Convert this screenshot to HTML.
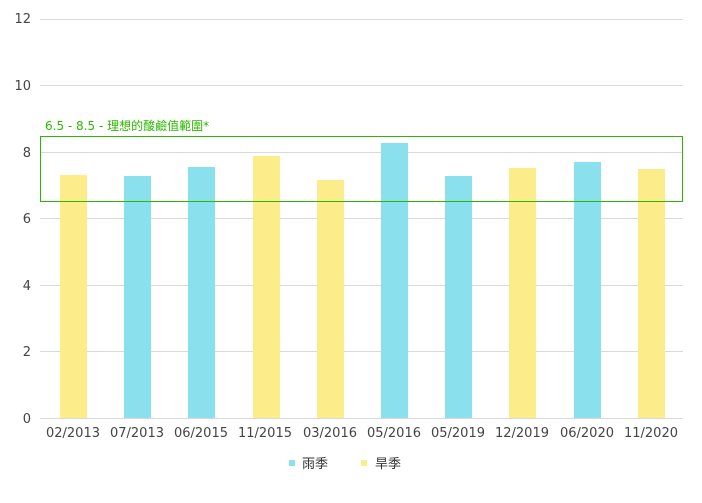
<!DOCTYPE html>
<html><head><meta charset="utf-8"><style>
body{margin:0;background:#fff;}
svg text{font-family:"DejaVu Sans","Noto Sans CJK TC",sans-serif;}
</style></head><body>
<svg width="702" height="498" xmlns="http://www.w3.org/2000/svg">
<g stroke="#d9d9d9" stroke-width="1">
<line x1="40" x2="683" y1="19.5" y2="19.5"/>
<line x1="40" x2="683" y1="85.5" y2="85.5"/>
<line x1="40" x2="683" y1="152.5" y2="152.5"/>
<line x1="40" x2="683" y1="218.5" y2="218.5"/>
<line x1="40" x2="683" y1="285.5" y2="285.5"/>
<line x1="40" x2="683" y1="351.5" y2="351.5"/>
<line x1="40" x2="683" y1="418.5" y2="418.5"/>
</g>
<g font-size="13" fill="#444" text-anchor="end">
<text x="31" y="23">12</text><text x="31" y="90">10</text><text x="31" y="157">8</text>
<text x="31" y="223">6</text><text x="31" y="290">4</text><text x="31" y="356">2</text><text x="31" y="423">0</text>
</g>
<g>
<rect x="60" y="175" width="27" height="243" fill="#fdec8a"/>
<rect x="124" y="176" width="27" height="242" fill="#8ae0ec"/>
<rect x="188" y="167" width="27" height="251" fill="#8ae0ec"/>
<rect x="253" y="156" width="27" height="262" fill="#fdec8a"/>
<rect x="317" y="180" width="27" height="238" fill="#fdec8a"/>
<rect x="381" y="143" width="27" height="275" fill="#8ae0ec"/>
<rect x="445" y="176" width="27" height="242" fill="#8ae0ec"/>
<rect x="509" y="168" width="27" height="250" fill="#fdec8a"/>
<rect x="574" y="162" width="27" height="256" fill="#8ae0ec"/>
<rect x="638" y="169" width="27" height="249" fill="#fdec8a"/>
</g>
<rect x="40.5" y="136.5" width="642" height="65" fill="none" stroke="#2db800" stroke-width="1"/>
<text x="45" y="130" font-size="12" fill="#2db800">6.5 - 8.5 - 理想的酸鹼值範圍*</text>
<g font-size="13" fill="#444" text-anchor="middle">
<text x="73" y="437">02/2013</text><text x="137" y="437">07/2013</text><text x="201" y="437">06/2015</text>
<text x="265" y="437">11/2015</text><text x="330" y="437">03/2016</text><text x="394" y="437">05/2016</text>
<text x="458" y="437">05/2019</text><text x="522" y="437">12/2019</text><text x="587" y="437">06/2020</text>
<text x="651" y="437">11/2020</text>
</g>
<rect x="289" y="460" width="6" height="6" fill="#8ae0ec"/>
<text x="302" y="468" font-size="13" fill="#333">雨季</text>
<rect x="361" y="460" width="6" height="6" fill="#fdec8a"/>
<text x="375" y="468" font-size="13" fill="#333">旱季</text>
</svg>
</body></html>
